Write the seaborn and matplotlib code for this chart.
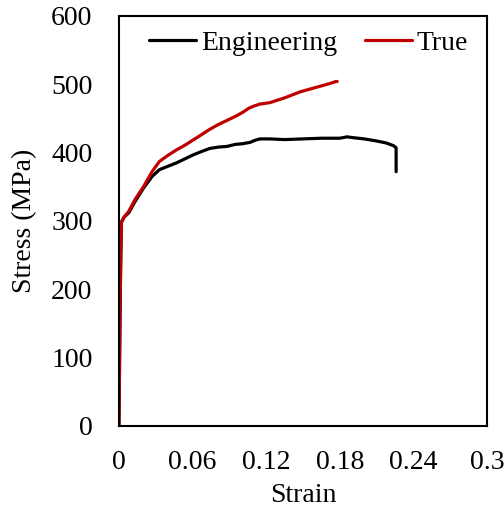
import numpy as np
import pandas as pd
import matplotlib
matplotlib.use('Agg')
import matplotlib.pyplot as plt
import seaborn as sns

# engineering stress-strain curve
eng_strain = [0, 0.0008, 0.0015, 0.002, 0.004, 0.008, 0.013, 0.020, 0.027, 0.033,
              0.040, 0.047, 0.054, 0.061, 0.068, 0.074, 0.081, 0.088, 0.095, 0.101,
              0.107, 0.111, 0.115, 0.123, 0.135, 0.150, 0.165, 0.180, 0.186, 0.190,
              0.200, 0.210, 0.218, 0.224, 0.226, 0.226]
eng_stress = [0, 150, 250, 298, 305, 312, 328, 348, 365, 375,
              380, 385, 391, 397, 402, 406, 408, 409, 412, 413,
              415, 418, 420, 420, 419, 420, 421, 421, 423, 422,
              420, 417, 414, 410, 407, 372]

# true stress-strain curve
true_strain = [0, 0.0008, 0.0015, 0.002, 0.004, 0.008, 0.013, 0.020, 0.027, 0.033,
               0.040, 0.047, 0.054, 0.061, 0.068, 0.074, 0.081, 0.088, 0.095, 0.101,
               0.106, 0.110, 0.115, 0.123, 0.135, 0.148, 0.160, 0.170, 0.177, 0.178]
true_stress = [0, 150, 250, 298, 305, 314, 331, 350, 372, 387,
               396, 404, 411, 419, 427, 434, 441, 447, 453, 459,
               465, 468, 471, 473, 480, 489, 495, 500, 504, 504]

df = pd.concat([
    pd.DataFrame({'Strain': eng_strain, 'Stress': eng_stress, 'Curve': 'Engineering'}),
    pd.DataFrame({'Strain': true_strain, 'Stress': true_stress, 'Curve': 'True'}),
], ignore_index=True)

sns.set_style('white')
plt.rcParams['font.family'] = ['Liberation Serif', 'DejaVu Serif']
plt.rcParams['text.color'] = 'black'
plt.rcParams['axes.labelcolor'] = 'black'
plt.rcParams['xtick.color'] = 'black'
plt.rcParams['ytick.color'] = 'black'
fs = 20

fig = plt.figure(figsize=(5.04, 5.12), dpi=100)
ax = fig.add_axes([0.236, 0.168, 0.73, 0.801])

sns.lineplot(data=df, x='Strain', y='Stress', hue='Curve', sort=False,
             palette={'Engineering': 'black', 'True': '#C00000'},
             linewidth=2.3, ax=ax, estimator=None)

ax.set_xlim(0, 0.3)
ax.set_ylim(0, 600)
ax.set_xticks([0, 0.06, 0.12, 0.18, 0.24, 0.3])
ax.set_xticklabels(['0', '0.06', '0.12', '0.18', '0.24', '0.3'])
ax.set_yticks(range(0, 601, 100))
ax.tick_params(length=0, labelsize=fs)
ax.tick_params(axis='x', pad=17)
ax.tick_params(axis='y', pad=19)
ax.set_xlabel('Strain', fontsize=fs, labelpad=6)
ax.set_ylabel('Stress (MPa)', fontsize=fs, labelpad=10)
for s in ax.spines.values():
    s.set_color('black')
    s.set_linewidth(1.5)

ax.legend(loc='upper center', ncol=2, frameon=False, fontsize=fs,
          handlelength=1.7, handletextpad=0.18, columnspacing=1.0,
          bbox_to_anchor=(0.515, 1.025))

plt.savefig('out.png', dpi=100)
plt.close()
